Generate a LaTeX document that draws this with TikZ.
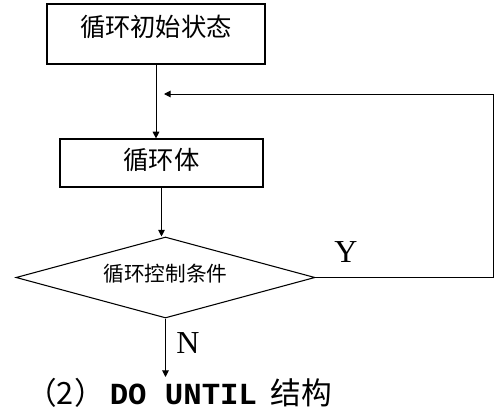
\documentclass[tikz,border=0pt]{standalone}
\usepackage{fontspec}
\setmainfont{Liberation Serif}
\newfontfamily\cjk{Noto Sans CJK SC}
\newfontfamily\latmono{Liberation Mono}
\usepackage{tikz}
\usetikzlibrary{shapes.geometric,arrows.meta,positioning}

\begin{document}
\begin{tikzpicture}[x=0.75pt,y=-0.75pt,
  box/.style={rectangle,draw=black,line width=0.9pt,inner sep=0pt,
              font=\cjk\fontsize{19}{19}\selectfont},
  decision/.style={diamond,draw=black,line width=0.8pt,inner sep=0pt,aspect=3.7,
              minimum width=224.25pt,minimum height=60.75pt,text depth=7pt,
              font=\cjk\fontsize{15.5}{15.5}\selectfont},
  arr/.style={-{Triangle[length=5pt,width=5pt]},line width=0.75pt,black},
  yn/.style={font=\fontsize{24}{24}\selectfont}
]
  \useasboundingbox (0,0) rectangle (501,411);
  \node[box,minimum width=163.5pt,minimum height=45pt,text depth=12.8pt] (init) at (156,34) {循环初始状态};
  \node[box,minimum width=152.25pt,minimum height=36pt,text depth=6pt] (body) at (161.5,163) {循环体};
  \node[decision] (test) at (165.5,277.5) {循环控制条件};
  \coordinate (turn) at (493,94);
  \coordinate (back) at (164,94);
  \coordinate (exit) at (165.5,377);
  \node[yn] (yes) at (346,252) {Y};
  \node[yn] (no)  at (188,343) {N};
  \node[font=\fontsize{23}{23}\selectfont] (title) at (179,393)
    {{\cjk （2）}\,{\latmono\bfseries DO UNTIL}\hspace{10pt}{\cjk 结构}};
  \draw[arr] (init.south) -- (init.south |- body.north);
  \draw[arr] (body.south) -- (body.south |- test.north);
  \draw[arr] (test.east) -| (turn) -- (back);
  \draw[arr] (test.south) -- (exit);
\end{tikzpicture}
\end{document}
